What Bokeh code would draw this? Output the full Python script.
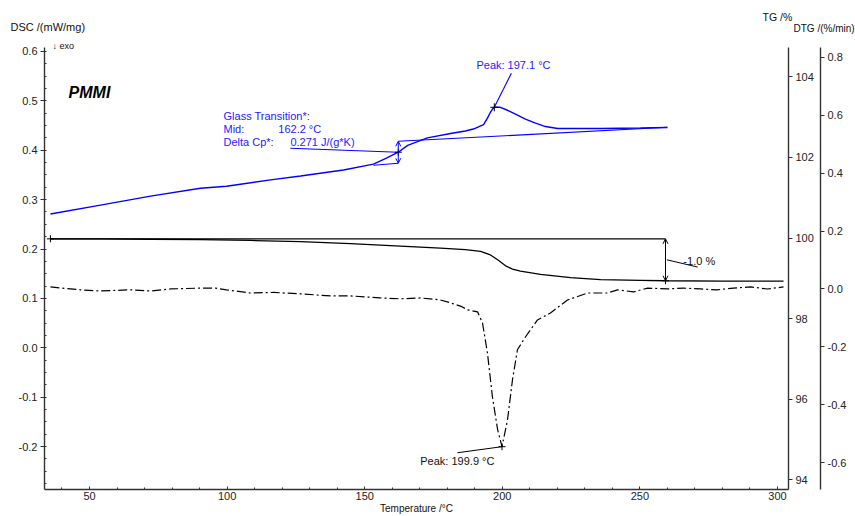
from bokeh.plotting import figure
from bokeh.models import (Range1d, LinearAxis, FixedTicker, PrintfTickFormatter,
                          Label, Arrow, OpenHead)
from bokeh.embed import file_html
from bokeh.resources import INLINE

# ---------------- data ----------------
temp_dsc = [35.8, 54.0, 72.2, 90.3, 99.8, 115.8, 126.7, 142.3, 153.2, 157.9, 162.2,
            165.6, 172.8, 181.2, 186.6, 189.5, 193.2, 194.6, 195.7, 196.4, 197.1,
            199.3, 201.9, 204.8, 208.4, 212.1, 215.7, 220.1, 235.7, 250.2, 260.0]
dsc = [0.271, 0.289, 0.307, 0.323, 0.327, 0.340, 0.348, 0.360, 0.372, 0.384, 0.396,
       0.410, 0.425, 0.434, 0.439, 0.443, 0.452, 0.465, 0.477, 0.483, 0.487,
       0.487, 0.481, 0.473, 0.463, 0.455, 0.448, 0.444, 0.444, 0.445, 0.446]

temp_tg = [35.8, 54.0, 72.2, 90.3, 108.5, 126.7, 144.8, 163.0, 177.5, 186.6, 192.1,
           195.7, 198.3, 201.2, 203.7, 206.6, 213.9, 224.8, 235.7, 250.2, 259.3,
           280.0, 302.2]
tg = [99.98, 99.98, 99.97, 99.96, 99.94, 99.91, 99.86, 99.80, 99.75, 99.71, 99.67,
      99.58, 99.46, 99.31, 99.23, 99.18, 99.10, 99.02, 98.97, 98.95, 98.94,
      98.93, 98.93]

temp_dtg = [35.8, 46.7, 54.0, 64.9, 72.2, 79.4, 90.3, 95.8, 99.8, 108.5, 117.0,
            126.7, 137.6, 144.8, 155.7, 163.0, 170.3, 177.5, 181.2, 185.0, 187.4,
            191.0, 192.8, 194.6, 196.4, 198.3, 199.9, 201.9, 203.7, 205.5, 208.4,
            212.8, 217.5, 223.7, 231.0, 238.2, 241.9, 247.7, 252.8, 260.0, 265.8,
            272.0, 278.0, 284.0, 290.2, 296.4, 302.2]
dtg = [0.007, -0.003, -0.007, -0.003, -0.007, 0.0, 0.003, 0.003, -0.003, -0.014, -0.012,
       -0.017, -0.024, -0.024, -0.031, -0.034, -0.031, -0.038, -0.048, -0.060, -0.072,
       -0.079, -0.117, -0.221, -0.372, -0.486, -0.545, -0.452, -0.314, -0.210, -0.166,
       -0.107, -0.083, -0.038, -0.014, -0.014, -0.003, -0.010, 0.003, 0.0, 0.003,
       0.0, -0.003, 0.003, 0.007, 0.0, 0.007]

x_ticks = [50, 100, 150, 200, 250, 300]
x_minor = list(range(40, 301, 10))
dsc_ticks = [-0.2, -0.1, 0.0, 0.1, 0.2, 0.3, 0.4, 0.5, 0.6]
dsc_minor = [round(-0.275 + 0.025 * i, 3) for i in range(36)]
tg_ticks = [94, 96, 98, 100, 102, 104]
dtg_ticks = [-0.6, -0.4, -0.2, 0.0, 0.2, 0.4, 0.6, 0.8]

# annotation values
tg_mid = 162.2
tg_low, tg_high = 0.3737, 0.4182
tg_low_start = 153.2
tg_high_end = 260.0
tg_high_end_val = 0.4465
dsc_peak_T, dsc_peak_v = 197.1, 0.487
dtg_peak_T, dtg_peak_v = 199.9, -0.545
mass_T = 259.3
mass_start, mass_end = 99.98, 98.94

FONT = "Liberation Sans"
BLUE = "#0000ff"
TBLUE = "#2222ff"

FRAME_LEFT, FRAME_TOP = 44, 47

p = figure(width=855, height=516, output_backend="svg", toolbar_location=None,
           x_range=Range1d(33.65, 304.0), y_range=Range1d(-0.287, 0.6081),
           min_border_left=FRAME_LEFT, min_border_top=FRAME_TOP, min_border_bottom=26,
           min_border_right=67)
p.outline_line_color = None
p.xgrid.visible = False
p.ygrid.visible = False
p.extra_y_ranges = {"tg": Range1d(93.76, 104.728), "dtg": Range1d(-0.693, 0.8345)}

def style_axis(ax):
    ax.axis_line_color = "#333333"
    ax.axis_line_width = 1.4
    ax.major_tick_line_color = "#333333"
    ax.minor_tick_line_color = "#333333"
    ax.major_label_text_font = FONT
    ax.major_label_text_font_size = "11px"
    ax.major_label_text_color = "#222222"

style_axis(p.xaxis[0])
p.xaxis.ticker = FixedTicker(ticks=x_ticks, minor_ticks=x_minor)
p.xaxis.major_tick_in = 3
p.xaxis.major_tick_out = 0
p.xaxis.minor_tick_in = 2
p.xaxis.minor_tick_out = 0
p.xaxis.major_label_standoff = 2
p.xaxis.axis_label = "Temperature /\u00b0C"
p.xaxis.axis_label_text_font = FONT
p.xaxis.axis_label_text_font_size = "10px"
p.xaxis.axis_label_text_font_style = "normal"
p.xaxis.axis_label_text_color = "#111111"
p.xaxis.axis_label_standoff = 0

style_axis(p.yaxis[0])
p.yaxis.ticker = FixedTicker(ticks=dsc_ticks, minor_ticks=dsc_minor)
p.yaxis.formatter = PrintfTickFormatter(format="%.1f")
p.yaxis.major_tick_in = 0
p.yaxis.major_tick_out = 4
p.yaxis.minor_tick_in = 2
p.yaxis.minor_tick_out = 0
p.yaxis.major_label_standoff = 3

tg_axis = LinearAxis(y_range_name="tg", ticker=FixedTicker(ticks=tg_ticks, minor_ticks=[]),
                     formatter=PrintfTickFormatter(format="%d"),
                     major_tick_in=0, major_tick_out=4, minor_tick_in=0, minor_tick_out=0,
                     major_label_standoff=3, axis_label=" ",
                     axis_label_text_font_size="1px", axis_label_standoff=0)
style_axis(tg_axis)
p.add_layout(tg_axis, "right")

dtg_axis = LinearAxis(y_range_name="dtg", ticker=FixedTicker(ticks=dtg_ticks, minor_ticks=[]),
                      formatter=PrintfTickFormatter(format="%.1f"),
                      major_tick_in=0, major_tick_out=4, minor_tick_in=0, minor_tick_out=0,
                      major_label_standoff=3)
style_axis(dtg_axis)
p.add_layout(dtg_axis, "right")

# ---------------- axis titles in the top border (each in its own stacked panel) ----------------
def toplab(text, px, y, size):
    p.add_layout(Label(x=px - FRAME_LEFT, y=y, x_units="screen",
                       y_units="screen", text=text, text_font=FONT,
                       text_font_size=size, text_color="#111111",
                       text_baseline="middle", text_align="left"), "above")

toplab("DSC /(mW/mg)", 10, 21, "11px")
toplab("TG /%", 762, 19, "10.5px")
toplab("DTG /(%/min)", 793, -5, "10px")
toplab("\u2193 exo", 52, -33, "9px")

# ---------------- curves ----------------
p.line(temp_dsc, dsc, line_color=BLUE, line_width=1.4)
p.line(temp_tg, tg, line_color="black", line_width=1.3, y_range_name="tg")
p.line(temp_dtg, dtg, line_color="black", line_width=1.2, line_dash="9 3 2 3",
       y_range_name="dtg")

# glass transition construction
p.line([tg_low_start, tg_mid], [tg_low - 0.004, tg_low], line_color=BLUE, line_width=1.1)
p.line([tg_mid, tg_high_end], [tg_high, tg_high_end_val], line_color=BLUE, line_width=1.1)
p.add_layout(Arrow(start=OpenHead(size=5, line_color=BLUE, line_width=1),
                   end=OpenHead(size=5, line_color=BLUE, line_width=1),
                   x_start=tg_mid, y_start=tg_low, x_end=tg_mid, y_end=tg_high,
                   line_color=BLUE, line_width=1))
p.line([123.0, tg_mid], [0.404, 0.396], line_color=BLUE, line_width=1.1)
p.scatter([tg_mid], [0.396], marker="cross", size=7, line_color="black", line_width=1)

# DSC peak
p.line([dsc_peak_T, 203.3], [dsc_peak_v, 0.556], line_color=BLUE, line_width=1.1)
p.scatter([dsc_peak_T], [dsc_peak_v], marker="cross", size=8, line_color="black", line_width=1)

# mass change
p.line([35.8, mass_T], [mass_start, mass_start], line_color="black", line_width=1.2,
       y_range_name="tg")
p.add_layout(Arrow(start=OpenHead(size=5, line_color="black", line_width=1),
                   end=OpenHead(size=5, line_color="black", line_width=1),
                   x_start=mass_T, y_start=mass_start, x_end=mass_T, y_end=mass_end,
                   line_color="black", line_width=1, y_range_name="tg"))
p.line([mass_T + 0.5, 271.0], [99.46, 99.28], line_color="black", line_width=1,
       y_range_name="tg")
p.scatter([35.8, mass_T], [mass_start, mass_end], marker="cross", size=7,
          line_color="black", line_width=1, y_range_name="tg")

# DTG peak
p.line([183.7, dtg_peak_T], [-0.566, dtg_peak_v], line_color="black", line_width=1,
       y_range_name="dtg")
p.scatter([dtg_peak_T], [dtg_peak_v], marker="cross", size=7, line_color="black",
          line_width=1, y_range_name="dtg")

# ---------------- in-plot texts ----------------
def lab(text, x, y, color="#111111", size="11px", yr="default", style="normal"):
    kw = dict(x=x, y=y, text=text, text_font=FONT, text_font_size=size,
              text_color=color, text_baseline="middle", text_align="left",
              text_font_style=style)
    if yr != "default":
        kw.update(y_range_name=yr)
    p.add_layout(Label(**kw))

lab("PMMI", 42.4, 0.517, size="16px", style="bold italic", color="black")
lab("Glass Transition*:", 98.7, 0.469, color=TBLUE)
lab("Mid:", 98.7, 0.443, color=TBLUE)
lab("162.2 \u00b0C", 118.6, 0.443, color=TBLUE)
lab("Delta Cp*:", 98.7, 0.417, color=TBLUE)
lab("0.271 J/(g*K)", 123.0, 0.417, color=TBLUE)
lab("Peak: 197.1 \u00b0C", 190.6, 0.572, color=TBLUE)
lab("-1.0 %", 265.8, 99.43, yr="tg")
lab("Peak: 199.9 \u00b0C", 170.2, -0.595, yr="dtg")

open("out.html", "w").write(file_html(p, INLINE))
